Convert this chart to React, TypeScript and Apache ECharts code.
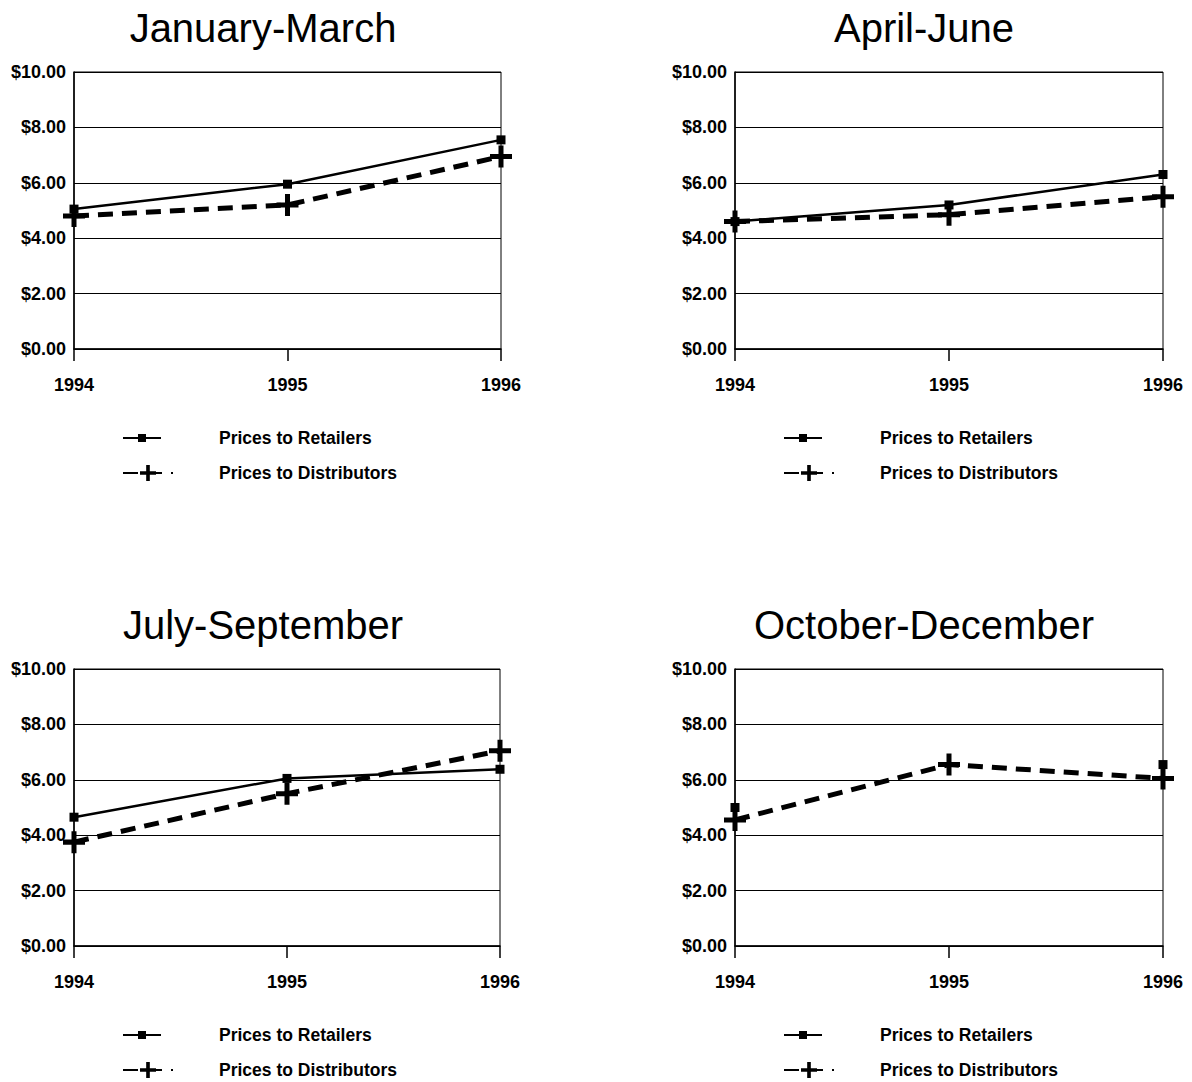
import React, { useEffect, useRef } from "react";
import * as echarts from "echarts";

const years = ["1994", "1995", "1996"];
const panelTitles = ["January-March", "April-June", "July-September", "October-December"];
const seriesNames = ["Prices to Retailers", "Prices to Distributors"];

const retailersJanMar = [5.05, 5.95, 7.55];
const distributorsJanMar = [4.8, 5.2, 6.95];
const retailersAprJun = [4.6, 5.2, 6.3];
const distributorsAprJun = [4.6, 4.85, 5.5];
const retailersJulSep = [4.65, 6.05, 6.38];
const distributorsJulSep = [3.75, 5.5, 7.05];
const retailersOctDec = [5.0, null, 6.55];
const distributorsOctDec = [4.55, 6.55, 6.05];

const retailers = [retailersJanMar, retailersAprJun, retailersJulSep, retailersOctDec];
const distributors = [distributorsJanMar, distributorsAprJun, distributorsJulSep, distributorsOctDec];

const yMin = 0;
const yMax = 10;
const yInterval = 2;

const PLUS = "path://M8.5,0H13.5V8.5H22V13.5H13.5V22H8.5V13.5H0V8.5H8.5Z";

const grids = [
  { left: 74, top: 72, width: 427, height: 277 },
  { left: 735, top: 72, width: 428, height: 277 },
  { left: 74, top: 669, width: 426, height: 277 },
  { left: 735, top: 669, width: 428, height: 277 },
];

export default function App() {
  const ref = useRef<HTMLDivElement>(null);
  useEffect(() => {
    if (!ref.current) return;
    const chart = echarts.init(ref.current, null, { renderer: "svg" });
    const font = "Liberation Sans, Arial, sans-serif";
    const legendText = (pad: number) => ({
      color: "#000",
      fontFamily: font,
      fontWeight: "bold",
      fontSize: 17.5,
      padding: [0, 0, 0, pad],
    });
    const option: any = {
      animation: false,
      backgroundColor: "#fff",
      grid: grids.map((g) => ({
        ...g,
        show: true,
        borderColor: "#000",
        borderWidth: 1,
        backgroundColor: "transparent",
      })),
      xAxis: grids.map((_, i) => ({
        type: "category",
        gridIndex: i,
        data: years,
        boundaryGap: false,
        axisLine: { show: true, lineStyle: { color: "#000", width: 1.5 } },
        axisTick: { show: true, length: 12, lineStyle: { color: "#000", width: 1.5 } },
        axisLabel: {
          color: "#000",
          fontFamily: font,
          fontWeight: "bold",
          fontSize: 18,
          margin: 27,
        },
        splitLine: { show: false },
      })),
      yAxis: grids.map((_, i) => ({
        type: "value",
        gridIndex: i,
        min: yMin,
        max: yMax,
        interval: yInterval,
        axisLine: { show: true, lineStyle: { color: "#000", width: 1.5 } },
        axisTick: { show: false },
        axisLabel: {
          color: "#000",
          fontFamily: font,
          fontWeight: "bold",
          fontSize: 18,
          margin: 8,
          formatter: (v: number) => "$" + v.toFixed(2),
        },
        splitLine: { show: true, lineStyle: { color: "#000", width: 1.2 } },
      })),
      legend: grids.flatMap((g) => [
        {
          orient: "vertical",
          left: g.left + 48,
          top: g.top + g.height + 80,
          padding: 0,
          itemWidth: 38,
          itemHeight: 10,
          data: [seriesNames[0]],
          selectedMode: false,
          textStyle: legendText(53),
        },
        {
          orient: "vertical",
          left: g.left + 48,
          top: g.top + g.height + 115,
          padding: 0,
          itemWidth: 50,
          itemHeight: 20,
          data: [seriesNames[1]],
          selectedMode: false,
          textStyle: legendText(41),
        },
      ]),
      graphic: grids.map((g, i) => ({
        type: "text",
        x: g.left + 189,
        y: g.top - 44,
        style: {
          text: panelTitles[i],
          font: "40px " + font,
          fill: "#000",
          textAlign: "center",
          textVerticalAlign: "middle",
        },
      })),
      series: grids.flatMap((_, i) => [
        {
          name: seriesNames[0],
          type: "line",
          xAxisIndex: i,
          yAxisIndex: i,
          data: retailers[i],
          connectNulls: false,
          symbol: "rect",
          symbolSize: 9,
          showAllSymbol: true,
          itemStyle: { color: "#000" },
          lineStyle: { color: "#000", width: 2.5, type: "solid" },
          z: 3,
        },
        {
          name: seriesNames[1],
          type: "line",
          xAxisIndex: i,
          yAxisIndex: i,
          data: distributors[i],
          symbol: PLUS,
          symbolSize: 22,
          showAllSymbol: true,
          itemStyle: { color: "#000" },
          lineStyle: { color: "#000", width: 5, type: [15, 9] },
          z: 4,
        },
      ]),
    };
    chart.setOption(option);
    return () => chart.dispose();
  }, []);
  return (
    <div
      ref={ref}
      style={{ position: "absolute", left: 0, top: 0, width: 1192, height: 1082, background: "#fff" }}
    />
  );
}
